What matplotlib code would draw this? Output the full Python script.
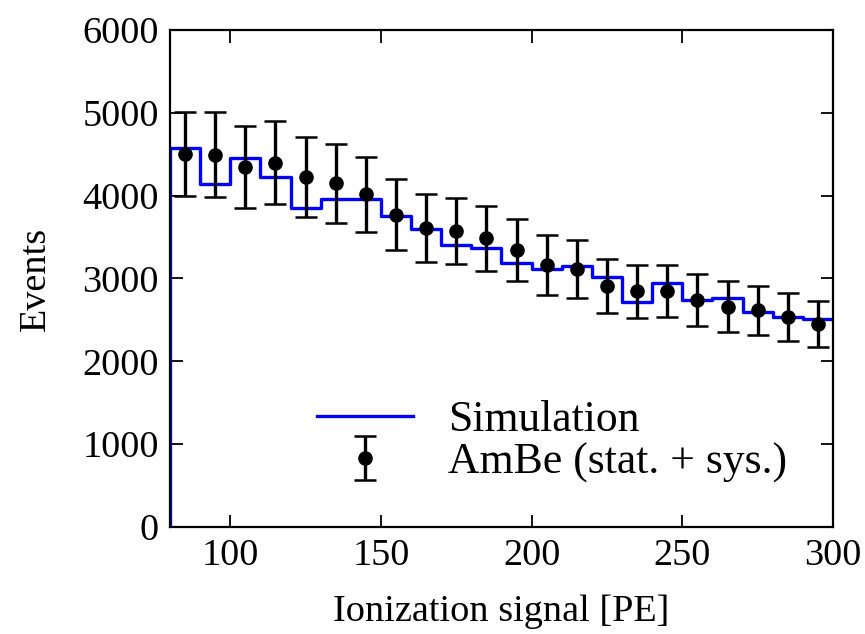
import numpy as np
import matplotlib
matplotlib.use("Agg")
import matplotlib.pyplot as plt

# Data
bin_edges = np.arange(80, 301, 10)
sim_values = [4580, 4140, 4460, 4230, 3855, 3955, 3955, 3750, 3600, 3400, 3370,
              3185, 3110, 3150, 3020, 2720, 2945, 2745, 2760, 2595, 2530, 2510]
data_x = np.arange(85, 300, 10)
data_y = [4500, 4495, 4345, 4400, 4225, 4150, 4015, 3770, 3615, 3575, 3485,
          3345, 3165, 3110, 2910, 2845, 2850, 2740, 2660, 2615, 2540, 2450]
data_err = [510, 510, 490, 500, 480, 475, 455, 430, 410, 400, 395,
            375, 360, 350, 330, 320, 315, 310, 305, 295, 290, 280]

plt.rcParams['font.family'] = ['Liberation Serif', 'DejaVu Serif']
plt.rcParams['mathtext.fontset'] = 'stix'

fig = plt.figure(figsize=(8.65, 6.34), dpi=100)
ax = fig.add_axes([0.1965, 0.1688, 0.7665, 0.7839])

xs = np.concatenate([[bin_edges[0]], bin_edges])
ys = np.concatenate([[0], sim_values, [sim_values[-1]]])
ax.step(xs, ys, where='post', color='#0000ff', lw=2.4, label='Simulation')

ax.errorbar(data_x, data_y, yerr=data_err, fmt='o', color='black', ms=9.5,
            elinewidth=2.4, capsize=8, capthick=1.8, label='AmBe (stat. + sys.)')

ax.set_xlim(80, 300)
ax.set_ylim(0, 6000)
ax.set_xticks([100, 150, 200, 250, 300])
ax.set_yticks(np.arange(0, 6001, 1000))
ax.tick_params(direction='in', length=9, width=1.3, top=True, right=True,
               labelsize=27.5, pad=8)
for s in ax.spines.values():
    s.set_linewidth(1.6)

ax.set_xlabel('Ionization signal [PE]', fontsize=27.5, labelpad=16)
ax.set_ylabel('Events', fontsize=27.5, labelpad=21)

leg = ax.legend(loc='center left', bbox_to_anchor=(0.162, 0.172), frameon=False,
                fontsize=31.5, handlelength=2.2, handletextpad=0.8,
                labelspacing=0.05, numpoints=1)

fig.savefig('out.png', dpi=100)
